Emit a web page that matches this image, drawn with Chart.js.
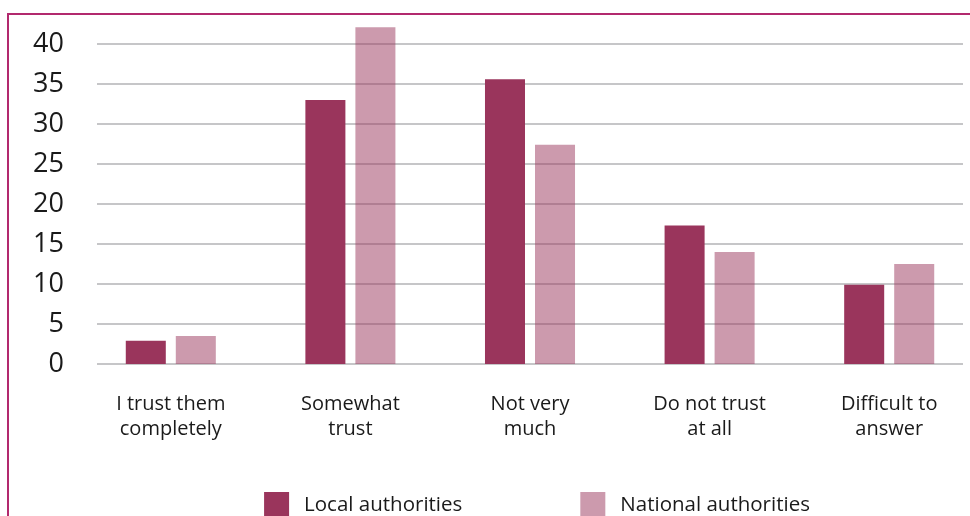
<!DOCTYPE html>
<html>
<head>
<meta charset="utf-8">
<script src="https://cdn.jsdelivr.net/npm/chart.js@4"></script>
<style>
html, body { margin: 0; padding: 0; background: #fff; overflow: hidden; }
#frame { position: absolute; left: 7px; top: 13px; width: 1000px; height: 600px;
         border-left: 2px solid #b2296e; border-top: 2px solid #b2296e; }
#wrap { position: absolute; left: 0; top: 0; width: 979px; height: 516px; }
</style>
</head>
<body>
<div id="frame"></div>
<div id="wrap"><canvas id="chart"></canvas></div>
<script>
var categories = [
    ["I trust them", "completely"],
    ["Somewhat", "trust"],
    ["Not very", "much"],
    ["Do not trust", "at all"],
    ["Difficult to", "answer"]
];
var seriesNames = ["Local authorities", "National authorities"];
var localValues = [2.9, 33.0, 35.6, 17.3, 9.9];
var nationalValues = [3.5, 42.1, 27.4, 14.0, 12.5];
var yTicks = [0, 5, 10, 15, 20, 25, 30, 35, 40];

// horizontal grid lines, inset from the plot edges like the original
const gridPlugin = {
    id: 'insetGrid',
    beforeDatasetsDraw(chart) {
        const ctx = chart.ctx;
        const area = chart.chartArea;
        const y = chart.scales.y;
        ctx.save();
        ctx.strokeStyle = '#c6c6c8';
        ctx.lineWidth = 2;
        y.ticks.forEach((t) => {
            const py = Math.round(y.getPixelForValue(t.value));
            ctx.beginPath();
            ctx.moveTo(area.left + 16, py);
            ctx.lineTo(area.right - 16, py);
            ctx.stroke();
        });
        ctx.restore();
    }
};

// legend at the bottom with wide spacing between items
const legendPlugin = {
    id: 'bottomLegend',
    afterDraw(chart) {
        const ctx = chart.ctx;
        const area = chart.chartArea;
        const box = 25, textGap = 15, itemGap = 118;
        ctx.save();
        ctx.font = '20.5px "Open Sans"';
        ctx.textBaseline = 'middle';
        ctx.fillStyle = '#1a1a1a';
        const items = chart.data.datasets.map((d) => ({
            label: d.label, color: d.backgroundColor, w: ctx.measureText(d.label).width
        }));
        let total = itemGap * (items.length - 1);
        items.forEach((it) => { total += box + textGap + it.w; });
        let x = (area.left + area.right) / 2 + 7 - total / 2;
        const top = area.bottom + 128;
        items.forEach((it) => {
            ctx.fillStyle = it.color;
            ctx.fillRect(x, top, box, box);
            ctx.fillStyle = '#1a1a1a';
            ctx.fillText(it.label, x + box + textGap, top + 13);
            x += box + textGap + it.w + itemGap;
        });
        ctx.restore();
    }
};

var config = {
    type: 'bar',
    data: {
        labels: categories,
        datasets: [{
            label: seriesNames[0],
            data: localValues,
            backgroundColor: '#9a355c',
            categoryPercentage: 0.557,
            barPercentage: 0.8
        },
        {
            label: seriesNames[1],
            data: nationalValues,
            backgroundColor: 'rgba(154, 53, 92, 0.5)',
            categoryPercentage: 0.557,
            barPercentage: 0.8
        }]
    },
    options: {
        responsive: true,
        maintainAspectRatio: false,
        animation: false,
        layout: { padding: { top: 4, left: 0, right: 0, bottom: 0 } },
        plugins: { legend: { display: false }, tooltip: { enabled: false } },
        scales: {
            x: {
                grid: { display: false, drawTicks: false },
                border: { display: false },
                ticks: {
                    color: '#1a1a1a',
                    font: { family: 'Open Sans', size: 20, lineHeight: 1.25 },
                    padding: 28,
                    maxRotation: 0,
                    autoSkip: false
                },
                afterFit(s) { s.height = 152; s.paddingLeft = 0; s.paddingRight = 0; }
            },
            y: {
                min: 0,
                max: 45,
                grid: { display: false, drawTicks: false },
                border: { display: false },
                ticks: {
                    color: '#1a1a1a',
                    font: { family: 'Open Sans', size: 27 },
                    padding: 17
                },
                afterBuildTicks(s) { s.ticks = yTicks.map((v) => ({ value: v })); },
                afterFit(s) { s.width = 81; s.paddingTop = 0; s.paddingBottom = 0; }
            }
        }
    },
    plugins: [gridPlugin, legendPlugin]
};

var chart = new Chart(document.getElementById('chart'), config);
</script>
</body>
</html>
